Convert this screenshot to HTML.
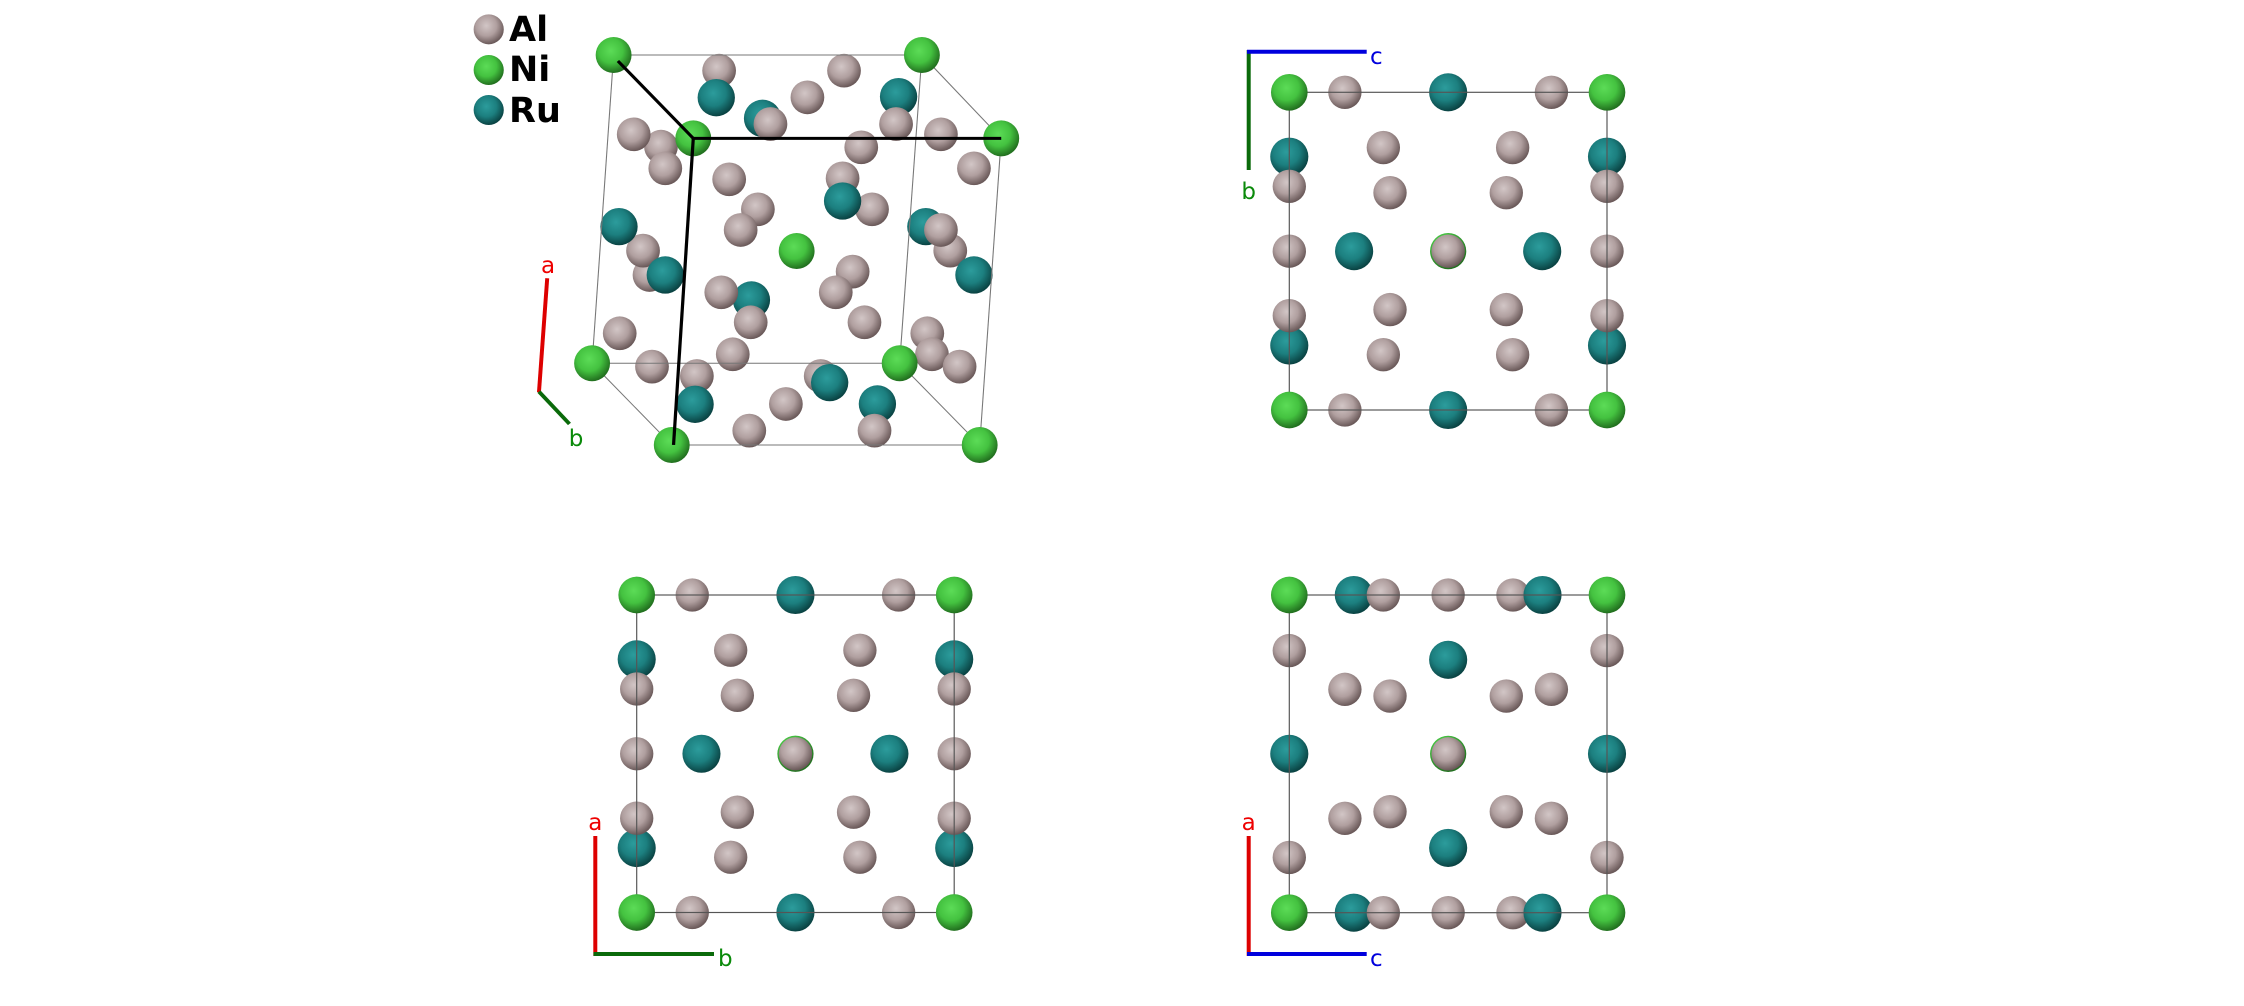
<!DOCTYPE html>
<html><head><meta charset="utf-8"><style>
html,body{margin:0;padding:0;background:#fff;}
svg{display:block;}
text{font-family:"DejaVu Sans","Liberation Sans",sans-serif;}
</style></head><body>
<svg width="2244" height="1006" viewBox="0 0 2244 1006" xmlns="http://www.w3.org/2000/svg">
<defs>
<radialGradient id="gAl" cx="0.42" cy="0.38" r="0.62">
<stop offset="0" stop-color="#d2c6c6"/><stop offset="0.55" stop-color="#b09f9f"/><stop offset="1" stop-color="#6a5959"/></radialGradient>
<radialGradient id="gNi" cx="0.42" cy="0.38" r="0.62">
<stop offset="0" stop-color="#5cdc57"/><stop offset="0.55" stop-color="#44c240"/><stop offset="1" stop-color="#22701f"/></radialGradient>
<radialGradient id="gRu" cx="0.42" cy="0.38" r="0.62">
<stop offset="0" stop-color="#2c9c9c"/><stop offset="0.55" stop-color="#1c7f7f"/><stop offset="1" stop-color="#0a4343"/></radialGradient>

<g id="p1">
<circle cx="0" cy="0.2025" r="0.06" fill="url(#gRu)"/><circle cx="1" cy="0.2025" r="0.06" fill="url(#gRu)"/>
<circle cx="0" cy="0.797" r="0.06" fill="url(#gRu)"/><circle cx="1" cy="0.797" r="0.06" fill="url(#gRu)"/>
<circle cx="0.5" cy="0" r="0.06" fill="url(#gRu)"/><circle cx="0.5" cy="1" r="0.06" fill="url(#gRu)"/>
<circle cx="0.204" cy="0.5" r="0.06" fill="url(#gRu)"/><circle cx="0.796" cy="0.5" r="0.06" fill="url(#gRu)"/>
<circle cx="0.5" cy="0.5" r="0.057" fill="url(#gNi)"/>
<g fill="url(#gAl)">
<circle cx="0.175" cy="0" r="0.0525"/><circle cx="0.825" cy="0" r="0.0525"/>
<circle cx="0.175" cy="1" r="0.0525"/><circle cx="0.825" cy="1" r="0.0525"/>
<circle cx="0" cy="0.296" r="0.0525"/><circle cx="0" cy="0.5" r="0.0525"/><circle cx="0" cy="0.703" r="0.0525"/>
<circle cx="1" cy="0.296" r="0.0525"/><circle cx="1" cy="0.5" r="0.0525"/><circle cx="1" cy="0.703" r="0.0525"/>
<circle cx="0.296" cy="0.174" r="0.0525"/><circle cx="0.703" cy="0.174" r="0.0525"/>
<circle cx="0.317" cy="0.316" r="0.0525"/><circle cx="0.683" cy="0.316" r="0.0525"/>
<circle cx="0.317" cy="0.684" r="0.0525"/><circle cx="0.683" cy="0.684" r="0.0525"/>
<circle cx="0.296" cy="0.826" r="0.0525"/><circle cx="0.703" cy="0.826" r="0.0525"/>
<circle cx="0.5" cy="0.5" r="0.0525"/>
</g>
<rect x="0" y="0" width="1" height="1" fill="none" stroke="#555" stroke-width="0.0037"/>
<g fill="url(#gNi)">
<circle cx="0" cy="0" r="0.0577"/><circle cx="1" cy="0" r="0.0577"/><circle cx="0" cy="1" r="0.0577"/><circle cx="1" cy="1" r="0.0577"/>
</g>
</g>

<g id="p3">
<g fill="url(#gRu)">
<circle cx="0.203" cy="0" r="0.06"/><circle cx="0.203" cy="1" r="0.06"/>
<circle cx="0" cy="0.5" r="0.06"/><circle cx="1" cy="0.5" r="0.06"/>
<circle cx="0.5" cy="0.204" r="0.06"/><circle cx="0.5" cy="0.796" r="0.06"/>
</g>
<circle cx="0.5" cy="0.5" r="0.057" fill="url(#gNi)"/>
<g fill="url(#gAl)">
<circle cx="0.296" cy="0" r="0.0525"/><circle cx="0.5" cy="0" r="0.0525"/><circle cx="0.704" cy="0" r="0.0525"/>
<circle cx="0.296" cy="1" r="0.0525"/><circle cx="0.5" cy="1" r="0.0525"/><circle cx="0.704" cy="1" r="0.0525"/>
<circle cx="0" cy="0.175" r="0.0525"/><circle cx="0" cy="0.826" r="0.0525"/>
<circle cx="1" cy="0.175" r="0.0525"/><circle cx="1" cy="0.826" r="0.0525"/>
<circle cx="0.175" cy="0.297" r="0.0525"/><circle cx="0.317" cy="0.318" r="0.0525"/>
<circle cx="0.683" cy="0.318" r="0.0525"/><circle cx="0.825" cy="0.297" r="0.0525"/>
<circle cx="0.175" cy="0.703" r="0.0525"/><circle cx="0.317" cy="0.682" r="0.0525"/>
<circle cx="0.683" cy="0.682" r="0.0525"/><circle cx="0.825" cy="0.703" r="0.0525"/>
<circle cx="0.5" cy="0.5" r="0.0525"/>
</g>
<g fill="url(#gRu)">
<circle cx="0.797" cy="0" r="0.06"/><circle cx="0.797" cy="1" r="0.06"/>
</g>
<rect x="0" y="0" width="1" height="1" fill="none" stroke="#555" stroke-width="0.0037"/>
<g fill="url(#gNi)">
<circle cx="0" cy="0" r="0.0577"/><circle cx="1" cy="0" r="0.0577"/><circle cx="0" cy="1" r="0.0577"/><circle cx="1" cy="1" r="0.0577"/>
</g>
</g>
</defs>

<!-- Panel 1: 3D view -->
<g transform="translate(460,0) scale(0.3589,0.3333)">
<g fill="url(#gAl)">
<ellipse cx="722" cy="212" rx="47" ry="50.6"/><ellipse cx="1070" cy="212" rx="47" ry="50.6"/><ellipse cx="968" cy="292" rx="47" ry="50.6"/>
<ellipse cx="560" cy="440" rx="47" ry="50.6"/><ellipse cx="1066" cy="535" rx="47" ry="50.6"/><ellipse cx="528" cy="825" rx="47" ry="50.6"/>
<ellipse cx="660" cy="1128" rx="47" ry="50.6"/><ellipse cx="1005" cy="1128" rx="47" ry="50.6"/>
</g>
<g fill="url(#gRu)">
<ellipse cx="714" cy="293" rx="52" ry="56"/><ellipse cx="843" cy="355" rx="52" ry="56"/><ellipse cx="1222" cy="290" rx="52" ry="56"/>
<ellipse cx="1298" cy="680" rx="52" ry="56"/><ellipse cx="812" cy="900" rx="52" ry="56"/><ellipse cx="1163" cy="1212" rx="52" ry="56"/>
</g>
<g fill="url(#gAl)">
<ellipse cx="865" cy="372" rx="47" ry="50.6"/><ellipse cx="1215" cy="372" rx="47" ry="50.6"/><ellipse cx="484" cy="403" rx="47" ry="50.6"/>
<ellipse cx="572" cy="505" rx="47" ry="50.6"/><ellipse cx="1118" cy="442" rx="47" ry="50.6"/><ellipse cx="1340" cy="403" rx="47" ry="50.6"/>
<ellipse cx="1432" cy="505" rx="47" ry="50.6"/><ellipse cx="750" cy="538" rx="47" ry="50.6"/><ellipse cx="1148" cy="628" rx="47" ry="50.6"/>
<ellipse cx="830" cy="628" rx="47" ry="50.6"/><ellipse cx="782" cy="690" rx="47" ry="50.6"/><ellipse cx="510" cy="752" rx="47" ry="50.6"/>
<ellipse cx="1366" cy="752" rx="47" ry="50.6"/><ellipse cx="1340" cy="690" rx="47" ry="50.6"/>
<ellipse cx="1094" cy="815" rx="47" ry="50.6"/><ellipse cx="1047" cy="877" rx="47" ry="50.6"/><ellipse cx="728" cy="877" rx="47" ry="50.6"/>
<ellipse cx="810" cy="967" rx="47" ry="50.6"/><ellipse cx="1127" cy="967" rx="47" ry="50.6"/><ellipse cx="445" cy="1000" rx="47" ry="50.6"/>
<ellipse cx="535" cy="1100" rx="47" ry="50.6"/><ellipse cx="760" cy="1063" rx="47" ry="50.6"/><ellipse cx="908" cy="1212" rx="47" ry="50.6"/>
<ellipse cx="1155" cy="1292" rx="47" ry="50.6"/><ellipse cx="806" cy="1292" rx="47" ry="50.6"/><ellipse cx="1302" cy="1000" rx="47" ry="50.6"/>
<ellipse cx="1315" cy="1063" rx="47" ry="50.6"/><ellipse cx="1392" cy="1100" rx="47" ry="50.6"/>
</g>
<g fill="url(#gRu)">
<ellipse cx="1066" cy="603" rx="52" ry="56"/><ellipse cx="443" cy="680" rx="52" ry="56"/><ellipse cx="572" cy="825" rx="52" ry="56"/>
<ellipse cx="1432" cy="825" rx="52" ry="56"/><ellipse cx="655" cy="1213" rx="52" ry="56"/><ellipse cx="1030" cy="1148" rx="52" ry="56"/>
</g>
<ellipse cx="938" cy="753" rx="50" ry="54" fill="url(#gNi)"/>
<g stroke="#777" stroke-width="3" fill="none">
<line x1="428" y1="165" x2="1287" y2="165"/><line x1="428" y1="165" x2="368" y2="1090"/>
<line x1="1287" y1="165" x2="1225" y2="1090"/><line x1="1287" y1="165" x2="1508" y2="415"/>
<line x1="1508" y1="415" x2="1448" y2="1335"/><line x1="368" y1="1090" x2="1225" y2="1090"/>
<line x1="368" y1="1090" x2="590" y2="1335"/><line x1="1225" y1="1090" x2="1448" y2="1335"/>
<line x1="590" y1="1335" x2="1448" y2="1335"/>
</g>
<g fill="url(#gNi)">
<ellipse cx="428" cy="165" rx="50" ry="54"/><ellipse cx="1287" cy="165" rx="50" ry="54"/>
<ellipse cx="368" cy="1090" rx="50" ry="54"/><ellipse cx="1225" cy="1090" rx="50" ry="54"/>
<ellipse cx="1448" cy="1335" rx="50" ry="54"/><ellipse cx="590" cy="1335" rx="50" ry="54"/>
<ellipse cx="650" cy="415" rx="50" ry="54"/><ellipse cx="1508" cy="415" rx="50" ry="54"/>
</g>
<g stroke="#000" stroke-width="9" fill="none">
<line x1="440" y1="183" x2="650" y2="415"/><line x1="650" y1="415" x2="1508" y2="415"/>
<line x1="650" y1="415" x2="595" y2="1335"/>
</g>
<ellipse cx="80" cy="88" rx="42" ry="45" fill="url(#gAl)"/>
<ellipse cx="80" cy="210" rx="42" ry="45" fill="url(#gNi)"/>
<ellipse cx="80" cy="330" rx="42" ry="45" fill="url(#gRu)"/>
<line x1="243" y1="835" x2="220" y2="1177" stroke="#d00" stroke-width="11"/>
<line x1="220" y1="1175" x2="305" y2="1272" stroke="#0a6a0a" stroke-width="11"/>
</g>
<text x="509" y="41" font-size="35" font-weight="bold" fill="#000">Al</text>
<text x="509" y="81" font-size="35" font-weight="bold" fill="#000">Ni</text>
<text x="509" y="122" font-size="35" font-weight="bold" fill="#000">Ru</text>
<text x="548" y="273" font-size="23" fill="#e00" text-anchor="middle">a</text>
<text x="576" y="446" font-size="23" fill="#0a8a0a" text-anchor="middle">b</text>

<!-- Panel 2 top-right -->
<use href="#p1" transform="translate(1289.3,92.3) scale(317.7)"/>
<line x1="1248.7" y1="50" x2="1248.7" y2="170" stroke="#0a6a0a" stroke-width="4"/>
<line x1="1247" y1="51.7" x2="1366.7" y2="51.7" stroke="#0000dd" stroke-width="4"/>
<text x="1370" y="64" font-size="23" fill="#00d">c</text>
<text x="1248.7" y="199" font-size="23" fill="#0a8a0a" text-anchor="middle">b</text>

<!-- Panel 3 bottom-left -->
<use href="#p1" transform="translate(636.7,595) scale(317.5)"/>
<line x1="595.3" y1="836" x2="595.3" y2="956" stroke="#d00" stroke-width="4"/>
<line x1="593.5" y1="954" x2="714" y2="954" stroke="#0a6a0a" stroke-width="4"/>
<text x="595.3" y="830" font-size="23" fill="#e00" text-anchor="middle">a</text>
<text x="718" y="966" font-size="23" fill="#0a8a0a">b</text>

<!-- Panel 4 bottom-right -->
<use href="#p3" transform="translate(1289.3,595) scale(317.7)"/>
<line x1="1248.7" y1="836" x2="1248.7" y2="956" stroke="#d00" stroke-width="4"/>
<line x1="1247" y1="954" x2="1366.7" y2="954" stroke="#0000dd" stroke-width="4"/>
<text x="1248.7" y="830" font-size="23" fill="#e00" text-anchor="middle">a</text>
<text x="1370" y="966" font-size="23" fill="#00d">c</text>
</svg>
</body></html>
